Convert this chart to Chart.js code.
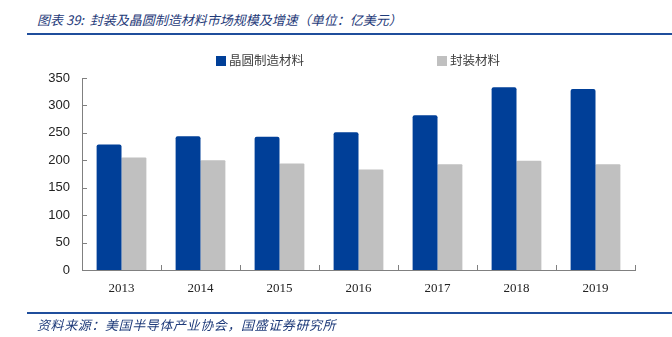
<!DOCTYPE html>
<html>
<head>
<meta charset="utf-8">
<script src="https://cdn.jsdelivr.net/npm/chart.js@4/dist/chart.umd.min.js"></script>
<style>
  html, body { margin: 0; padding: 0; background: #fff; }
  #wrap { position: relative; width: 672px; height: 337px; overflow: hidden; }
  #chart { position: absolute; left: 0; top: 0; }
  .title {
    position: absolute; left: 37px; top: 10px;
    font: italic 13px "Noto Sans CJK SC", sans-serif; color: #1f3b7a;
    white-space: nowrap;
  }
  .rule { position: absolute; left: 27px; right: 0; height: 2px; background: #1f4e9c; }
  .source {
    position: absolute; left: 37px; top: 315px;
    font: italic 13px "Noto Sans CJK SC", sans-serif; color: #1f3b7a;
    letter-spacing: 0.6px; white-space: nowrap;
  }
  .legend { position: absolute; top: 50px; font: 12.5px "Noto Sans CJK SC", sans-serif; color: #404040; }
  .legend span.box { display: inline-block; width: 10px; height: 10px; margin-right: 3px; vertical-align: -1px; }
</style>
</head>
<body>
<div id="wrap">
  <div class="title">图表 39:&nbsp; 封装及晶圆制造材料市场规模及增速（单位：亿美元）</div>
  <div class="rule" style="top:33px"></div>
  <canvas id="chart" width="672" height="337"></canvas>
  <div id="legend"></div>
  <div class="rule" style="top:312px"></div>
  <div class="source">资料来源：美国半导体产业协会，国盛证券研究所</div>
</div>
<script>
const years = ['2013', '2014', '2015', '2016', '2017', '2018', '2019'];
const waferMaterials = [229, 244, 243, 251, 282, 333, 330];
const packagingMaterials = [205, 200, 194, 183, 193, 199, 193];
const yTicks = [0, 50, 100, 150, 200, 250, 300, 350];

const axisColor = '#808080';

// short tick marks pointing into the plot, like the original axes
const innerTicks = {
  id: 'innerTicks',
  afterDraw(chart) {
    const { ctx, chartArea, scales } = chart;
    ctx.save();
    ctx.strokeStyle = axisColor;
    ctx.lineWidth = 1;
    ctx.beginPath();
    yTicks.forEach(v => {
      const y = Math.round(scales.y.getPixelForValue(v)) + 0.5;
      ctx.moveTo(chartArea.left, y);
      ctx.lineTo(chartArea.left + 5, y);
    });
    const step = (scales.x.getPixelForValue(1) - scales.x.getPixelForValue(0));
    years.forEach((_, i) => {
      const x = Math.round(scales.x.getPixelForValue(i) + step / 2) + 0.5;
      ctx.moveTo(x, chartArea.bottom);
      ctx.lineTo(x, chartArea.bottom - 5);
    });
    ctx.stroke();
    ctx.restore();
  }
};

const chart = new Chart(document.getElementById('chart'), {
  type: 'bar',
  data: {
    labels: years,
    datasets: [
      {
        label: '晶圆制造材料',
        data: waferMaterials,
        backgroundColor: '#003f98',
        borderRadius: { topLeft: 2, topRight: 2 },
        borderSkipped: 'bottom'
      },
      {
        label: '封装材料',
        data: packagingMaterials,
        backgroundColor: '#c0c0c0',
        borderRadius: { topLeft: 1, topRight: 1 },
        borderSkipped: 'bottom'
      }
    ]
  },
  options: {
    responsive: false,
    animation: false,
    events: [],
    layout: { padding: { top: 78, right: 37, bottom: 27, left: 0 } },
    datasets: { bar: { categoryPercentage: 0.63, barPercentage: 1.0 } },
    plugins: { legend: { display: false }, tooltip: { enabled: false } },
    scales: {
      x: {
        grid: { display: false, drawTicks: false },
        border: { color: axisColor, width: 1 },
        ticks: { padding: 11, color: '#222', font: { family: 'Liberation Serif', size: 13 } },
        afterFit(scale) { scale.height = 40; }
      },
      y: {
        min: 0, max: 350,
        grid: { display: false, drawTicks: false },
        border: { color: axisColor, width: 1 },
        ticks: { stepSize: 50, padding: 12, color: '#222', font: { family: 'Liberation Sans', size: 13 } },
        afterFit(scale) { scale.width = 82; }
      }
    }
  },
  plugins: [innerTicks]
});

// legend built from the datasets
const legendPos = [216, 437];
const legend = document.getElementById('legend');
chart.data.datasets.forEach((ds, i) => {
  const item = document.createElement('div');
  item.className = 'legend';
  item.style.left = legendPos[i] + 'px';
  item.innerHTML = '<span class="box" style="background:' + ds.backgroundColor + '"></span>' + ds.label;
  legend.appendChild(item);
});
</script>
</body>
</html>
